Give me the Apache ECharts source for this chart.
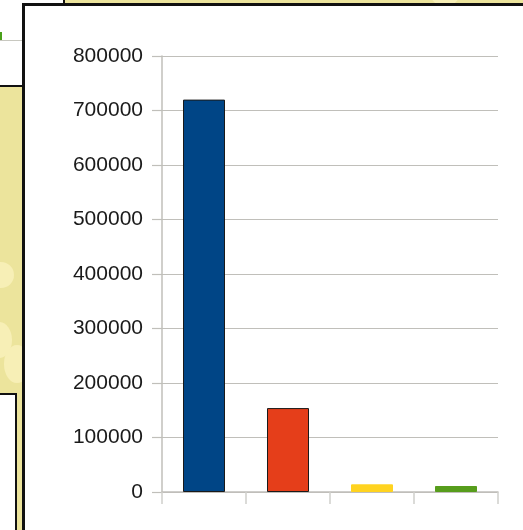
<!DOCTYPE html>
<html>
<head>
<meta charset="utf-8">
<script src="https://cdn.jsdelivr.net/npm/echarts@6/dist/echarts.min.js"></script>
<style>
html,body{margin:0;padding:0;width:523px;height:530px;overflow:hidden;background:#ece49c;position:relative;}
.dec{position:absolute;box-sizing:border-box;}
.circ{position:absolute;border-radius:50%;background:#f7efb6;}
</style>
</head>
<body>
<div class="circ" style="left:-12px;top:262px;width:26px;height:26px;"></div>
<div class="circ" style="left:-14px;top:322px;width:26px;height:36px;"></div>
<div class="circ" style="left:4px;top:345px;width:26px;height:38px;"></div>
<div class="circ" style="left:430px;top:-20px;width:30px;height:26px;"></div>
<div class="dec" style="left:-10px;top:-10px;width:75px;height:97px;background:#fff;border-right:2px solid #111;border-bottom:2px solid #111;"></div>
<div class="dec" style="left:0;top:40px;width:22px;height:1px;background:#c8c8c0;"></div>
<div class="dec" style="left:0;top:32px;width:2px;height:8px;background:#4aa01a;"></div>
<div class="dec" style="left:-10px;top:393px;width:27px;height:150px;background:#fff;border-right:2px solid #111;border-top:2px solid #111;"></div>
<div class="dec" style="left:22px;top:3px;width:520px;height:540px;background:#fff;border-left:3px solid #111;border-top:3px solid #111;"></div>
<div id="chart" style="position:absolute;left:0;top:0;width:523px;height:530px;"></div>
<script>
var categories = ['A', 'B', 'C', 'D'];
var values = [720000, 154000, 14000, 11000];
var barColors = ['#004586', '#e53e1a', '#ffd320', '#579d1c'];
var barBorders = ['#1a1a1a', '#1a1a1a', '#ffd320', '#579d1c'];
var yTicks = [0, 100000, 200000, 300000, 400000, 500000, 600000, 700000, 800000];

var chart = echarts.init(document.getElementById('chart'), null, {renderer: 'canvas'});
var gridColor = '#c0bfba';
chart.setOption({
  animation: false,
  backgroundColor: 'transparent',
  grid: {left: 162, right: 25, top: 56, bottom: 38, containLabel: false},
  xAxis: {
    type: 'category',
    data: categories,
    boundaryGap: true,
    axisLine: {show: true, lineStyle: {color: gridColor, width: 1.5}},
    axisTick: {show: true, length: 12, alignWithLabel: false, lineStyle: {color: '#d0d0cc', width: 1.5}},
    axisLabel: {show: false},
    splitLine: {show: false}
  },
  yAxis: {
    type: 'value',
    min: yTicks[0],
    max: yTicks[yTicks.length - 1],
    interval: yTicks[1] - yTicks[0],
    axisLine: {show: true, lineStyle: {color: gridColor, width: 1.5}},
    axisTick: {show: true, length: 10, lineStyle: {color: gridColor, width: 1.2}},
    axisLabel: {
      color: '#1a1a1a', fontFamily: 'Liberation Sans, Arial, sans-serif', fontSize: 21, margin: 19,
      formatter: function (v) { return String(v); }
    },
    splitLine: {show: true, lineStyle: {color: gridColor, width: 1.2}}
  },
  series: [{
    type: 'bar',
    barWidth: '50%',
    data: values.map(function (v, i) {
      return {value: v, itemStyle: {color: barColors[i], borderColor: barBorders[i], borderWidth: 1}};
    })
  }]
});
</script>
</body>
</html>
